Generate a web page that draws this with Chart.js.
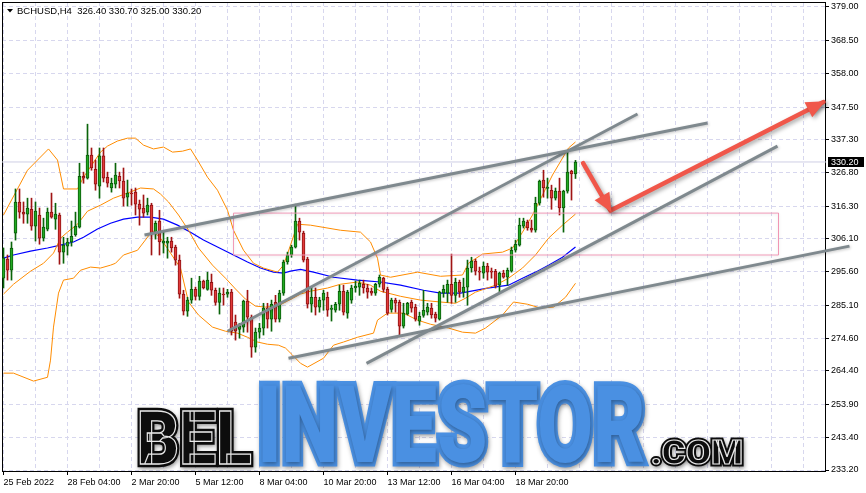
<!DOCTYPE html>
<html>
<head>
<meta charset="utf-8">
<title>BCHUSD H4</title>
<script src="https://cdn.jsdelivr.net/npm/chart.js@4.4.1/dist/chart.umd.min.js"></script>
<style>
html,body{margin:0;padding:0;background:#ffffff;overflow:hidden;}
canvas{display:block;}
</style>
</head>
<body>
<canvas id="chart" width="866" height="493"></canvas>
<script>
// ---------------- data ----------------
const symbolName = 'BCHUSD,H4';
const lastBar = [326.40, 330.70, 325.00, 330.20];   // O H L C of the last bar

const openP = [293.6,299.6,296.1,307.8,317.6,314.4,313.8,315.3,310.0,313.5,
306.2,309.0,314.4,312.2,313.5,301.8,303.7,305.0,307.2,309.7,
325.7,325.1,332.4,327.9,322.6,332.1,325.4,322.0,323.2,325.7,
324.2,319.1,320.4,320.7,316.9,315.7,314.4,316.6,308.1,311.6,
304.6,304.6,305.3,303.4,299.3,288.6,283.2,286.7,290.1,287.9,
292.7,290.1,292.3,289.8,286.0,288.6,288.6,289.2,279.8,277.5,
278.2,286.4,281.3,271.9,276.6,277.9,284.2,280.7,286.0,280.7,
288.9,298.7,300.9,303.4,311.6,307.8,299.6,285.4,287.6,284.5,
286.7,287.6,283.8,283.5,285.4,289.5,282.6,286.7,290.5,290.8,
291.7,290.5,289.5,288.9,291.7,293.6,290.1,283.8,286.7,286.0,
278.5,282.3,286.0,284.5,280.1,281.9,282.9,284.2,282.3,280.7,
288.9,288.9,291.7,288.2,292.3,289.2,290.8,296.8,299.0,295.8,
295.2,297.4,295.8,295.8,291.4,295.2,293.9,295.8,302.4,304.0,
310.0,311.3,309.4,308.7,317.2,324.5,321.9,321.3,318.8,321.0,
315.7,321.0,327.3,326.4];

const highP = [303.1,300.9,305.0,321.7,321.7,317.6,318.8,318.8,317.6,315.7,
312.5,315.7,320.4,317.2,314.1,306.5,306.2,311.6,314.4,329.8,
327.0,342.1,334.6,330.8,334.6,334.6,327.0,325.1,329.8,327.0,
328.3,324.5,321.7,322.0,318.2,319.8,318.8,317.2,311.6,315.0,
308.1,306.5,306.5,304.0,300.9,289.8,287.6,293.6,290.8,294.2,
293.0,295.5,294.9,290.5,290.5,290.5,290.1,290.1,282.0,279.4,
286.7,289.8,282.0,277.9,279.4,285.7,285.7,286.7,288.2,289.8,
299.3,301.8,304.0,316.9,312.5,308.4,300.2,290.8,290.5,287.6,
289.8,289.2,285.1,286.0,291.4,291.4,289.8,291.4,292.7,293.0,
293.0,291.7,290.5,292.0,294.6,293.9,290.8,287.3,287.3,286.7,
285.7,286.0,286.7,285.4,282.9,289.8,285.7,285.7,282.9,289.5,
291.4,293.0,301.2,293.6,293.0,293.6,299.3,300.2,299.6,297.1,
298.7,298.3,296.8,296.4,295.5,296.1,296.8,303.4,305.6,312.5,
312.5,311.9,311.9,319.1,324.5,327.6,325.1,322.9,322.0,325.1,
321.3,333.3,327.6,330.7];

const lowP = [290.5,293.0,293.0,305.6,312.5,310.9,310.9,308.7,305.3,304.3,
305.3,308.5,312.5,309.0,298.0,298.3,300.9,303.7,306.8,309.4,
323.5,324.8,327.6,321.3,318.8,323.9,322.3,320.7,322.0,322.0,
316.3,316.3,316.6,313.5,310.3,312.8,313.5,300.9,305.9,300.9,
301.5,299.9,301.8,297.7,287.3,282.0,281.6,285.7,286.7,286.7,
290.2,289.8,288.2,285.1,282.3,285.1,287.6,275.7,274.1,274.7,
276.6,276.6,268.7,270.3,274.7,275.7,277.9,276.9,279.8,279.8,
288.2,298.0,300.2,303.1,305.6,298.7,284.2,282.9,282.0,282.9,
283.5,281.6,280.1,282.9,283.5,282.0,281.0,285.7,289.2,288.2,
288.9,287.3,288.2,288.2,290.8,289.2,282.0,282.9,282.9,275.7,
277.9,282.0,282.9,280.1,278.8,281.3,282.0,281.0,279.8,280.4,
287.6,286.0,285.7,286.0,287.6,287.6,285.1,295.5,294.6,293.0,
293.6,293.0,293.6,290.5,289.2,293.6,291.4,295.5,301.8,303.7,
309.4,308.7,308.1,308.1,316.6,319.1,318.8,315.3,318.2,313.5,
308.1,320.4,318.2,325.0];

const closeP = [299.9,296.1,303.1,317.6,314.4,313.8,315.7,310.0,314.7,306.2,
309.7,314.4,312.8,313.8,301.8,304.0,305.0,306.8,310.0,325.7,
325.1,332.4,328.3,323.2,332.1,325.1,323.5,323.5,326.1,324.2,
318.8,320.4,320.1,316.9,315.3,314.1,316.6,307.8,310.9,305.0,
305.3,305.3,303.1,299.3,288.6,283.2,286.7,290.1,287.9,292.7,
290.5,293.0,289.8,286.0,288.9,288.3,289.2,276.9,276.9,278.5,
286.4,281.3,271.9,276.6,277.9,284.2,280.7,285.4,280.7,288.9,
298.7,300.9,303.4,311.6,308.1,299.3,285.4,287.6,284.5,286.7,
288.9,283.5,284.2,285.4,289.5,282.9,289.2,290.5,291.1,292.0,
290.5,289.2,288.9,291.7,293.9,290.1,282.6,286.7,285.7,278.5,
282.6,285.7,284.2,280.7,281.6,283.5,284.5,282.0,281.0,289.2,
290.1,291.7,288.2,292.3,289.2,290.8,296.8,299.0,295.8,295.5,
297.4,295.5,295.5,291.1,295.2,293.9,296.1,302.4,304.3,310.3,
311.6,309.4,308.7,317.2,324.2,322.0,322.0,318.8,321.0,315.7,
321.0,327.0,326.4,330.2];

// time axis (bar index -> label)
const timeTickIdx = [0,16,32,48,64,80,96,112,128];
const timeTickLabels = ['25 Feb 2022','28 Feb 04:00','2 Mar 20:00','5 Mar 12:00','8 Mar 04:00',
                        '10 Mar 20:00','13 Mar 12:00','16 Mar 04:00','18 Mar 20:00'];
// price axis labels
const priceTicks = [379.00,368.50,358.00,347.50,337.30,326.80,316.30,306.10,295.60,285.10,274.60,264.40,253.90,243.40,233.20];

// Bollinger bands (bar index, price)
const bbUpperIdx = [0,6,8.5,11.25,13.5,15,18.5,20,24.25,26,28.5,31,33,35,37.5,40,42.25,44.75,46.75,48.5,51,53.5,56,57.5,60,62.5,65,68.5,70,71.75,73.5,76.75,84.25,89.25,91.75,93.5,94.25,96.75,103.5,109.25,114.75,116.25,119.75,124.75,127.25,129.75,132.25,134.75,137.25,139.75,141.25,143];
const bbUpper = [313.5,327.6,330.8,334.3,330.8,321.7,321.7,325.4,333.3,335.2,336.8,337.7,337.7,335.5,334.3,334.9,333.3,333.6,334.3,330.8,325.4,321.3,315.0,308.7,302.4,298.3,296.8,295.5,297.7,304.0,310.6,310.3,308.7,308.1,305.0,299.9,294.6,293.9,295.5,294.2,294.6,298.3,301.2,301.8,303.1,308.1,313.5,319.8,326.1,331.4,334.6,336.5];
const bbMidIdx = [0,2.5,6.75,10,12.5,14.25,16,18.5,21,24.25,27.5,31,34.25,37.5,39.25,41.25,43.75,46.25,48.75,52.25,55.5,58,60.5,63,65.5,68.5,71,74.25,76.75,81,84.25,88.5,91.75,94.25,99.25,104.25,109.25,113,115.5,118,123,126.25,129.75,133,136.25,139.75,143];
const bbMid = [288.6,291.7,295.8,298.3,301.5,306.2,308.1,310.6,314.7,316.6,318.8,320.4,322.0,321.7,320.1,317.6,313.5,308.7,303.1,297.7,293.6,290.2,287.0,284.8,284.5,284.8,286.4,288.6,289.5,290.5,291.7,292.4,291.4,289.5,287.9,286.7,286.1,285.7,287.3,289.2,291.4,293.6,296.8,300.9,306.2,310.3,313.8];
const bbLowerIdx = [0,2.5,7.5,11,11.75,12.5,13.75,15,17.5,19.25,21.75,24.25,26.75,28,30,33.5,36,37.25,39.25,41.75,44.25,46.25,48.75,52.25,55.5,58.5,61,63.5,66,68.75,70.5,72.25,74.25,76,80,82.5,85,88.5,92.5,93.5,96,100,103.5,106.75,111.25,114.75,118,120.5,124.75,127.5,131,134.25,137.5,140.5,143];
const bbLower = [263.7,263.7,261.2,262.4,267.8,278.2,288.9,293.0,293.6,296.1,297.1,296.8,297.7,298.3,300.9,302.4,306.5,308.7,306.2,301.5,296.8,286.1,282.0,278.2,276.9,276.3,275.0,273.5,272.8,272.5,271.6,269.4,266.8,265.6,268.4,272.5,273.5,275.0,276.3,280.4,282.6,282.6,280.4,279.1,277.9,276.6,276.3,277.9,282.0,286.1,285.4,284.2,284.5,287.6,292.0];
// blue moving average
const maIdx = [0,2.5,6.75,11,14.25,17.5,20,23.5,26.75,30,33.5,36.75,40,43.5,46.75,50,53.5,57.5,61,64.25,67.5,70,71.75,74.25,77.5,82.5,88.5,94.25,99.25,105,109.25,114.25,121,126.25,129.75,133,136.25,139.75,143];
const maVal = [299.9,300.9,302.1,303.1,304.0,305.0,306.5,309.1,310.9,312.2,312.8,312.8,312.2,310.3,308.1,305.6,303.4,300.9,298.7,296.8,295.5,295.2,295.8,296.4,295.5,293.9,293.0,292.4,291.4,289.8,288.9,288.9,290.5,291.4,293.6,295.5,297.7,300.2,303.4];

// analyst drawings (bar index, price)
const trendResistIdx = [35.25, 176],   trendResist = [307.2, 342.5];
const trendSteepIdx  = [56, 158.5],    trendSteep  = [276.9, 345.3];
const trendSupportIdx= [90.75, 193.5], trendSupport= [266.8, 335.2];
const trendLowIdx    = [71.25, 211.5], trendLow    = [268.4, 303.7];
const zoneIdx = [57.5, 193.75], zonePrice = [300.9, 314.1];
const arrowIdx = [144.9, 151.75, 205], arrowPrice = [329.85, 314.88, 349.07];

// ---------------- chart ----------------
const X_MIN = -0.375, X_MAX = 205.625;
const Y_MIN = 232.5705, Y_MAX = 380.5745;
const FONT = '"Liberation Sans", Arial, sans-serif';
Chart.defaults.font.family = FONT;
Chart.defaults.font.size = 9;
Chart.defaults.color = '#000';

const isUp = i => closeP[i] >= openP[i];
const bars = openP.map((_, i) => i);
const pts = (xs, ys) => xs.map((x, k) => ({x: x, y: ys[k]}));
const GRAY = '#7f898e';
const ARROW = '#f0574a';
const grayShadow = {color: 'rgba(0,0,0,0.22)', blur: 3, x: 1, y: 1};

const datasets = [
  {type: 'line', label: 'last', data: [{x: X_MIN, y: lastBar[3]}, {x: X_MAX, y: lastBar[3]}],
   borderColor: '#cfcfe4', borderWidth: 1, order: 12},
  {type: 'line', label: 'BB upper', data: pts(bbUpperIdx, bbUpper), borderColor: '#ff8c00', borderWidth: 1, order: 9},
  {type: 'line', label: 'BB middle', data: pts(bbMidIdx, bbMid), borderColor: '#ff8c00', borderWidth: 1, order: 9},
  {type: 'line', label: 'BB lower', data: pts(bbLowerIdx, bbLower), borderColor: '#ff8c00', borderWidth: 1, order: 9},
  {type: 'line', label: 'MA', data: pts(maIdx, maVal), borderColor: '#0000ff', borderWidth: 1.2, order: 9},
  {type: 'bar', label: 'wicks', data: bars.map(i => ({x: i, y: [lowP[i], highP[i]]})),
   barThickness: 1, grouped: false, borderWidth: 0,
   backgroundColor: c => isUp(c.dataIndex) ? '#0a640a' : '#a01414', order: 7},
  {type: 'bar', label: 'bodies', data: bars.map(i => ({x: i, y: [openP[i], closeP[i]]})),
   barThickness: 3, grouped: false, borderWidth: 1, borderSkipped: false, minBarLength: 1,
   backgroundColor: c => isUp(c.dataIndex) ? '#22aa22' : '#e23a3a',
   borderColor: c => isUp(c.dataIndex) ? '#0a5a0a' : '#8e1212', order: 6},
  {type: 'line', label: 'zone',
   data: [{x: zoneIdx[0], y: zonePrice[1]}, {x: zoneIdx[1], y: zonePrice[1]}, {x: zoneIdx[1], y: zonePrice[0]},
          {x: zoneIdx[0], y: zonePrice[0]}, {x: zoneIdx[0], y: zonePrice[1]}],
   borderColor: 'rgba(240,150,180,0.95)', borderWidth: 1, order: 5,
   shadow: {color: 'rgba(0,0,0,0.12)', blur: 3, x: 0, y: 1}},
  {type: 'line', label: 'resistance', data: pts(trendResistIdx, trendResist), borderColor: GRAY, borderWidth: 3, order: 4, shadow: grayShadow},
  {type: 'line', label: 'steep', data: pts(trendSteepIdx, trendSteep), borderColor: GRAY, borderWidth: 3, order: 4, shadow: grayShadow},
  {type: 'line', label: 'support', data: pts(trendSupportIdx, trendSupport), borderColor: GRAY, borderWidth: 3, order: 4, shadow: grayShadow},
  {type: 'line', label: 'low', data: pts(trendLowIdx, trendLow), borderColor: GRAY, borderWidth: 3, order: 4, clip: false, shadow: grayShadow},
  {type: 'line', label: 'arrow', data: pts(arrowIdx, arrowPrice), borderColor: ARROW, borderWidth: 4.5,
   borderJoinStyle: 'round', borderCapStyle: 'round', order: 1, clip: false,
   shadow: {color: 'rgba(0,0,0,0.35)', blur: 4, x: 2, y: 2}}
];

const shadowPlugin = {
  id: 'dsShadow',
  beforeDatasetDraw(chart, args) {
    const s = chart.data.datasets[args.index].shadow;
    if (!s) return;
    const ctx = chart.ctx;
    ctx.save();
    ctx.shadowColor = s.color; ctx.shadowBlur = s.blur; ctx.shadowOffsetX = s.x; ctx.shadowOffsetY = s.y;
  },
  afterDatasetDraw(chart, args) {
    if (chart.data.datasets[args.index].shadow) chart.ctx.restore();
  }
};

function logoWord(ctx, text, box, opt) {
  ctx.save();
  ctx.font = opt.font;
  ctx.textAlign = 'left';
  ctx.textBaseline = 'alphabetic';
  const m = ctx.measureText(text);
  const w = m.actualBoundingBoxLeft + m.actualBoundingBoxRight;
  const h = m.actualBoundingBoxAscent + m.actualBoundingBoxDescent;
  const e = opt.grow || 0;
  const sx = (box.w - 2 * e) / w, sy = (box.h - 2 * e) / h;
  ctx.translate(box.x + e, box.y + e);
  ctx.scale(sx, sy);
  const k = 2 / (sx + sy);
  const tx = m.actualBoundingBoxLeft, ty = m.actualBoundingBoxAscent;
  ctx.lineJoin = 'miter'; ctx.miterLimit = 3;
  ctx.fillStyle = opt.fill; ctx.strokeStyle = opt.fill;
  ctx.shadowColor = 'rgba(0,0,0,0.35)'; ctx.shadowBlur = 4; ctx.shadowOffsetX = 1; ctx.shadowOffsetY = 2;
  if (e > 0) { ctx.lineWidth = 2 * e * k; ctx.strokeText(text, tx, ty); }
  ctx.fillText(text, tx, ty);
  ctx.shadowColor = 'rgba(0,0,0,0)';
  if (opt.inline) {
    ctx.strokeStyle = opt.inline; ctx.lineWidth = 1.2 * k;
    ctx.strokeText(text, tx, ty);
  }
  ctx.restore();
}

const decorPlugin = {
  id: 'decor',
  beforeDatasetsDraw(chart) {
    const {ctx, chartArea: a} = chart;
    // watermark
    const heavy = '900 100px Roboto, "Liberation Sans", sans-serif';
    logoWord(ctx, 'BEL', {x: 137, y: 407, w: 117, h: 60}, {font: heavy, fill: '#0d0d0d', grow: 3, inline: '#e8e8e8'});
    logoWord(ctx, 'INVESTOR', {x: 258, y: 380, w: 390, h: 87}, {font: heavy, fill: '#4a90e2', grow: 4});
    logoWord(ctx, '.COM', {x: 650, y: 437, w: 94, h: 30}, {font: heavy, fill: '#0d0d0d', grow: 2.5, inline: '#e8e8e8'});
    // frame
    ctx.save();
    ctx.strokeStyle = '#000'; ctx.lineWidth = 1;
    ctx.strokeRect(a.left + 0.5, a.top + 0.5, a.right - a.left - 1, a.bottom - a.top - 1);
    ctx.restore();
  },
  afterDatasetsDraw(chart) {
    const {ctx, scales: {x, y}} = chart;
    const P = arrowIdx.map((v, k) => [x.getPixelForValue(v), y.getPixelForValue(arrowPrice[k])]);
    ctx.save();
    ctx.fillStyle = ARROW;
    ctx.shadowColor = 'rgba(0,0,0,0.35)'; ctx.shadowBlur = 4; ctx.shadowOffsetX = 2; ctx.shadowOffsetY = 2;
    for (let k = 1; k < P.length; k++) {
      const [x0, y0] = P[k - 1], [x1, y1] = P[k];
      const ang = Math.atan2(y1 - y0, x1 - x0);
      const c = Math.cos(ang), s = Math.sin(ang), L = 17, Wd = 8.5;
      ctx.beginPath();
      ctx.moveTo(x1 + c * 2, y1 + s * 2);
      ctx.lineTo(x1 - c * L + s * Wd, y1 - s * L - c * Wd);
      ctx.lineTo(x1 - c * L - s * Wd, y1 - s * L + c * Wd);
      ctx.closePath();
      ctx.fill();
    }
    ctx.restore();
  },
  afterDraw(chart) {
    const {ctx, scales: {y}, chartArea: a} = chart;
    ctx.save();
    // header
    ctx.fillStyle = '#000';
    ctx.beginPath(); ctx.moveTo(7, 9); ctx.lineTo(13, 9); ctx.lineTo(10, 12.5); ctx.closePath(); ctx.fill();
    ctx.font = '9.5px ' + FONT;
    ctx.textBaseline = 'alphabetic'; ctx.textAlign = 'left';
    ctx.fillText(symbolName + '  ' + lastBar.map(v => v.toFixed(2)).join(' '), 17, 14);
    // last price label
    const py = Math.round(y.getPixelForValue(lastBar[3]));
    ctx.fillStyle = '#000';
    ctx.fillRect(a.right + 2, py - 5, 36, 10);
    ctx.fillStyle = '#fff';
    ctx.font = '9px ' + FONT;
    ctx.textBaseline = 'middle';
    ctx.fillText(lastBar[3].toFixed(2), a.right + 5, py + 0.5);
    ctx.restore();
  }
};

const gridColor = '#d7d7ee';
new Chart(document.getElementById('chart'), {
  type: 'line',
  data: {datasets: datasets},
  options: {
    responsive: false,
    animation: false,
    devicePixelRatio: 1,
    layout: {padding: {left: 2, top: 2, right: 0, bottom: 0}},
    elements: {point: {radius: 0, hoverRadius: 0}, line: {tension: 0}},
    plugins: {legend: {display: false}, tooltip: {enabled: false}},
    events: [],
    scales: {
      x: {
        type: 'linear', position: 'bottom', min: X_MIN, max: X_MAX, offset: false,
        afterBuildTicks: s => { const t = []; for (let v = 0; v <= 200; v += 8) t.push({value: v}); s.ticks = t; },
        afterFit: s => { s.height = 21; s.paddingLeft = 0; s.paddingRight = 0; },
        grid: {offset: false, color: gridColor, lineWidth: 1, drawTicks: true, tickLength: 3,
               tickColor: c => (c.tick && timeTickIdx.includes(c.tick.value)) ? '#000' : 'rgba(0,0,0,0)'},
        border: {display: false, dash: [4, 3]},
        ticks: {autoSkip: false, maxRotation: 0, minRotation: 0, align: 'start', padding: 2,
                font: {size: 9, family: FONT}, color: '#000',
                callback: v => { const k = timeTickIdx.indexOf(v); return k >= 0 ? timeTickLabels[k] : ''; }}
      },
      y: {
        type: 'linear', position: 'right', min: Y_MIN, max: Y_MAX,
        afterBuildTicks: s => { s.ticks = priceTicks.map(v => ({value: v})); },
        afterFit: s => { s.width = 40; s.paddingTop = 0; s.paddingBottom = 0; },
        grid: {color: gridColor, lineWidth: 1, drawTicks: true, tickLength: 3, tickColor: '#000'},
        border: {display: false, dash: [4, 3]},
        ticks: {padding: 2, font: {size: 9, family: FONT}, color: '#000', callback: v => v.toFixed(2)}
      }
    }
  },
  plugins: [shadowPlugin, decorPlugin]
});
</script>
</body>
</html>
